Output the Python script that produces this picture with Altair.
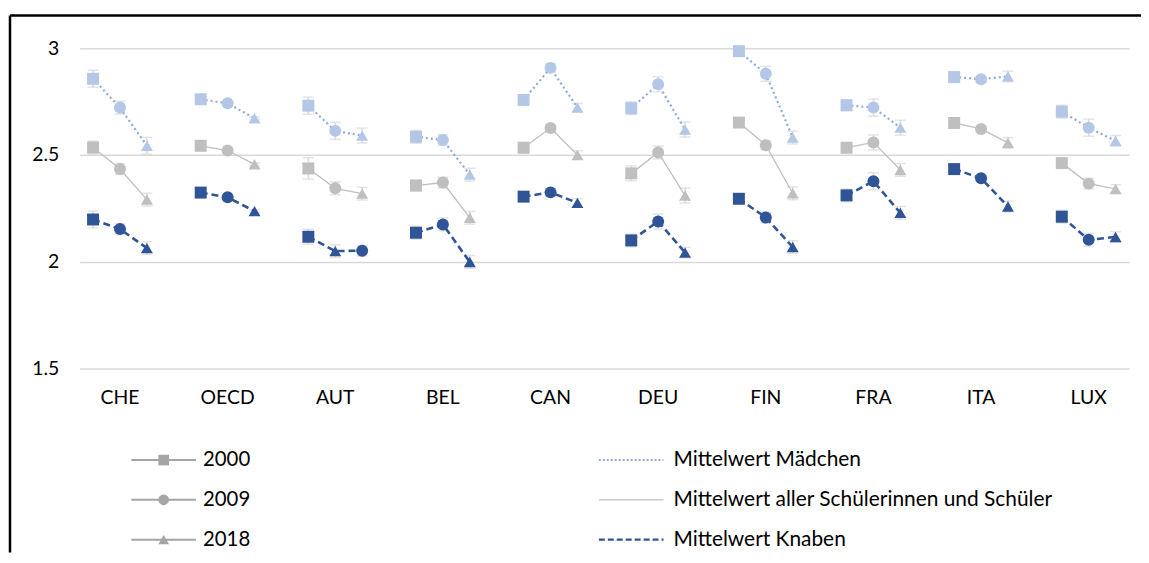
import altair as alt
import pandas as pd

# ---------------- data ----------------
countries = ["CHE", "OECD", "AUT", "BEL", "CAN", "DEU", "FIN", "FRA", "ITA", "LUX"]
years = ["2000", "2009", "2018"]
series_names = ["Mittelwert Mädchen",
                "Mittelwert aller Schülerinnen und Schüler",
                "Mittelwert Knaben"]

girls = [[2.857, 2.722, 2.543], [2.761, 2.742, 2.672], [2.731, 2.613, 2.591],
         [2.585, 2.570, 2.408], [2.758, 2.908, 2.722], [2.719, 2.831, 2.619],
         [2.986, 2.880, 2.582], [2.733, 2.722, 2.628], [2.865, 2.855, 2.868],
         [2.703, 2.628, 2.566]]
all_students = [[2.535, 2.434, 2.291], [2.543, 2.521, 2.456], [2.437, 2.344, 2.319],
                [2.357, 2.371, 2.206], [2.534, 2.626, 2.500], [2.414, 2.512, 2.310],
                [2.652, 2.546, 2.321], [2.534, 2.559, 2.430], [2.650, 2.622, 2.557],
                [2.462, 2.366, 2.341]]
boys = [[2.198, 2.153, 2.064], [2.324, 2.302, 2.237], [2.117, 2.050, 2.052],
        [2.136, 2.175, 1.999], [2.305, 2.325, 2.276], [2.100, 2.189, 2.043],
        [2.295, 2.207, 2.069], [2.311, 2.377, 2.229], [2.434, 2.391, 2.259],
        [2.211, 2.103, 2.116]]

# half-widths of the error bars
girls_err = [[0.04, 0.03, 0.04], [0.006, 0.006, 0.006], [0.04, 0.04, 0.035],
             [0.03, 0.025, 0.03], [0.01, 0.02, 0.02], [0.03, 0.035, 0.035],
             [0.02, 0.035, 0.03], [0.025, 0.04, 0.035], [0.025, 0.015, 0.025],
             [0.03, 0.04, 0.025]]
all_err = [[0.03, 0.025, 0.03], [0.006, 0.006, 0.006], [0.05, 0.03, 0.03],
           [0.025, 0.025, 0.03], [0.01, 0.015, 0.02], [0.035, 0.03, 0.035],
           [0.02, 0.02, 0.03], [0.02, 0.035, 0.03], [0.025, 0.015, 0.025],
           [0.02, 0.025, 0.02]]
boys_err = [[0.04, 0.025, 0.03], [0.006, 0.006, 0.006], [0.035, 0.03, 0.025],
            [0.03, 0.03, 0.03], [0.01, 0.02, 0.02], [0.03, 0.035, 0.025],
            [0.02, 0.025, 0.03], [0.03, 0.04, 0.03], [0.02, 0.015, 0.025],
            [0.03, 0.03, 0.025]]

# marker used at each point (AUT boys shows triangle / circle swapped)
marker_override = {("AUT", "Mittelwert Knaben"): ["2000", "2018", "2009"]}

# ---------------- table ----------------
rows = []
for s_name, vals, errs in zip(series_names, [girls, all_students, boys],
                              [girls_err, all_err, boys_err]):
    for k, c in enumerate(countries):
        marks = marker_override.get((c, s_name), years)
        for j, y in enumerate(years):
            rows.append({"country": c, "series": s_name, "year": y,
                         "slot": 4 * k + j, "value": vals[k][j],
                         "lo": vals[k][j] - errs[k][j], "hi": vals[k][j] + errs[k][j],
                         "marker": marks[j]})
df = pd.DataFrame(rows)
labels_df = pd.DataFrame({"country": countries,
                          "slot": [4 * k + 1 for k in range(len(countries))]})

# ---------------- styling ----------------
W, H = 1055, 322
FONT = "Lato"
c_girls_mk, c_girls_ln = "#b4c7e7", "#8eaadb"
c_all = "#bfbfbf"
c_boys = "#2f5597"
c_err = "#d9d9d9"

xscale = alt.Scale(domain=[-0.5, 38.5], nice=False, zero=False)
yscale = alt.Scale(domain=[1.5, 3], nice=False, zero=False)
yaxis = alt.Axis(values=[1.5, 2, 2.5, 3], format="~g", grid=True, gridColor="#d9d9d9",
                 gridWidth=1.5, domain=False, ticks=False, labelPadding=21,
                 labelFontSize=19.5, labelFont=FONT, labelColor="#000000", title=None)

X = alt.X("slot:Q", scale=xscale, axis=None)


def Y(field):
    return alt.Y(f"{field}:Q", scale=yscale, axis=yaxis)


base = alt.Chart(df)

err_rule = base.mark_rule(color=c_err, strokeWidth=1.5).encode(
    x=X, y=Y("lo"), y2="hi:Q")
cap_lo = base.mark_tick(orient="horizontal", size=11, thickness=1.5, color=c_err).encode(
    x=X, y=Y("lo"))
cap_hi = base.mark_tick(orient="horizontal", size=11, thickness=1.5, color=c_err).encode(
    x=X, y=Y("hi"))

line_styles = {
    series_names[0]: dict(color=c_girls_ln, strokeDash=[2, 3], strokeWidth=2.2),
    series_names[1]: dict(color=c_all, strokeWidth=1.3),
    series_names[2]: dict(color=c_boys, strokeDash=[7, 4], strokeWidth=2.6),
}
lines = [base.transform_filter(alt.datum.series == s).mark_line(**st).encode(
    x=X, y=Y("value"), detail="country:N") for s, st in line_styles.items()]

points = base.mark_point(filled=True, opacity=1, size=145).encode(
    x=X, y=Y("value"),
    shape=alt.Shape("marker:N", scale=alt.Scale(domain=years,
                    range=["square", "circle", "triangle-up"]), legend=None),
    color=alt.Color("series:N", scale=alt.Scale(domain=series_names,
                    range=[c_girls_mk, c_all, c_boys]), legend=None))

cat_labels = alt.Chart(labels_df).mark_text(
    font=FONT, fontSize=19.5, color="#000000", baseline="middle", align="center").encode(
    x=X, y=alt.value(H + 30), text="country:N")

# ---------------- legends ----------------
one = pd.DataFrame({"a": [0]})
legend_layers = []
row_y = [414, 454, 494]
year_shapes = ["square", "circle", "triangle-up"]
for yy, lab, shp in zip(row_y, years, year_shapes):
    legend_layers.append(alt.Chart(one).mark_rule(color="#a5a5a5", strokeWidth=2).encode(
        x=alt.value(52), x2=alt.value(117), y=alt.value(yy)))
    legend_layers.append(alt.Chart(one).mark_point(
        filled=True, opacity=1, shape=shp, size=115, color="#a5a5a5").encode(
        x=alt.value(84.5), y=alt.value(yy)))
    legend_layers.append(alt.Chart(one).mark_text(
        font=FONT, fontSize=20.5, align="left", baseline="middle", color="#000000").encode(
        x=alt.value(124), y=alt.value(yy), text=alt.value(lab)))

right_styles = [dict(color=c_girls_ln, strokeDash=[2, 2], strokeWidth=2),
                dict(color=c_all, strokeWidth=1.3),
                dict(color=c_boys, strokeDash=[6, 3], strokeWidth=2.4)]
for yy, lab, st in zip(row_y, series_names, right_styles):
    legend_layers.append(alt.Chart(one).mark_rule(**st).encode(
        x=alt.value(522), x2=alt.value(587), y=alt.value(yy)))
    legend_layers.append(alt.Chart(one).mark_text(
        font=FONT, fontSize=21, align="left", baseline="middle", color="#000000").encode(
        x=alt.value(597), y=alt.value(yy), text=alt.value(lab)))

# ---------------- frame ----------------
PAD = {"left": 72, "top": 39, "right": 12, "bottom": 185}
frame = [
    alt.Chart(one).mark_rule(color="#000000", strokeWidth=2.5).encode(
        x=alt.value(-70), x2=alt.value(W + PAD["right"]), y=alt.value(-33)),
    alt.Chart(one).mark_rule(color="#000000", strokeWidth=2.5).encode(
        x=alt.value(-70), y=alt.value(-33), y2=alt.value(H + PAD["bottom"])),
]

chart = alt.layer(err_rule, cap_lo, cap_hi, *lines, points, cat_labels,
                  *legend_layers, *frame).properties(
    width=W, height=H,
    autosize=alt.AutoSizeParams(type="none"),
    padding=PAD,
    background="white",
).configure_view(stroke=None)

chart.save("out.html", embed_options={"renderer": "svg", "actions": False})
